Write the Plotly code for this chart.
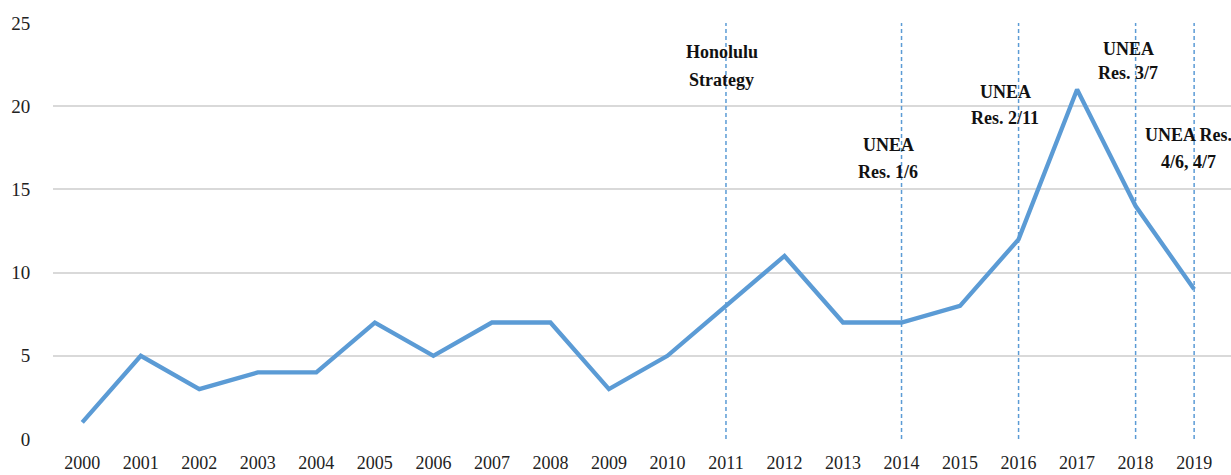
import plotly.graph_objects as go

years = list(range(2000, 2020))
counts = [1, 5, 3, 4, 4, 7, 5, 7, 7, 3, 5, 8, 11, 7, 7, 8, 12, 21, 14, 9]

event_years = [2011, 2014, 2016, 2018, 2019]

# each label is drawn line by line so the line spacing can match the source
label_lines = [
    ["Honolulu", "Strategy"],
    ["UNEA", "Res. 1/6"],
    ["UNEA", "Res. 2/11"],
    ["UNEA", "Res. 3/7"],
    ["UNEA Res.", "4/6, 4/7"],
]
label_x = [2010.93, 2013.77, 2015.77, 2017.87, 2018.9]
label_y = [
    [23.27, 21.57],
    [17.67, 16.05],
    [20.85, 19.29],
    [23.44, 22.0],
    [18.27, 16.65],
]

serif = "Liberation Serif, Times New Roman, serif"
blue = "#5B9BD5"

fig = go.Figure()
fig.add_trace(go.Scatter(
    x=years, y=counts,
    mode="lines",
    line=dict(color=blue, width=4.3),
    hoverinfo="x+y",
    showlegend=False
))

for yr in event_years:
    fig.add_shape(type="line", xref="x", yref="y",
                  x0=yr, x1=yr, y0=0, y1=25,
                  line=dict(color=blue, width=1.5, dash="4px,3px"))

for lines, lx, ly in zip(label_lines, label_x, label_y):
    for txt, y in zip(lines, ly):
        fig.add_annotation(x=lx, y=y, text="<b>" + txt + "</b>",
                           showarrow=False, xref="x", yref="y",
                           font=dict(family=serif, size=18, color="#111"))

fig.update_layout(
    width=1231, height=475,
    margin=dict(l=53, r=0, t=23, b=36),
    paper_bgcolor="white",
    plot_bgcolor="white",
    font=dict(family=serif, size=19, color="#222"),
    xaxis=dict(
        range=[1999.5, 2019.63],
        tickvals=years,
        ticktext=[str(y) for y in years],
        showgrid=False, zeroline=False,
        showline=False, automargin=False,
        ticks="outside", ticklen=7, tickcolor="rgba(0,0,0,0)",
        tickfont=dict(size=18),
    ),
    yaxis=dict(
        range=[0, 25],
        tickvals=[0, 5, 10, 15, 20, 25],
        showgrid=True, gridcolor="#d9d9d9", gridwidth=1.5,
        zeroline=False, showline=False, automargin=False,
        ticks="outside", ticklen=18, tickcolor="rgba(0,0,0,0)",
    ),
)

fig.write_html("out.html", config={"displayModeBar": False},
               post_script="document.body.style.margin='0';")
